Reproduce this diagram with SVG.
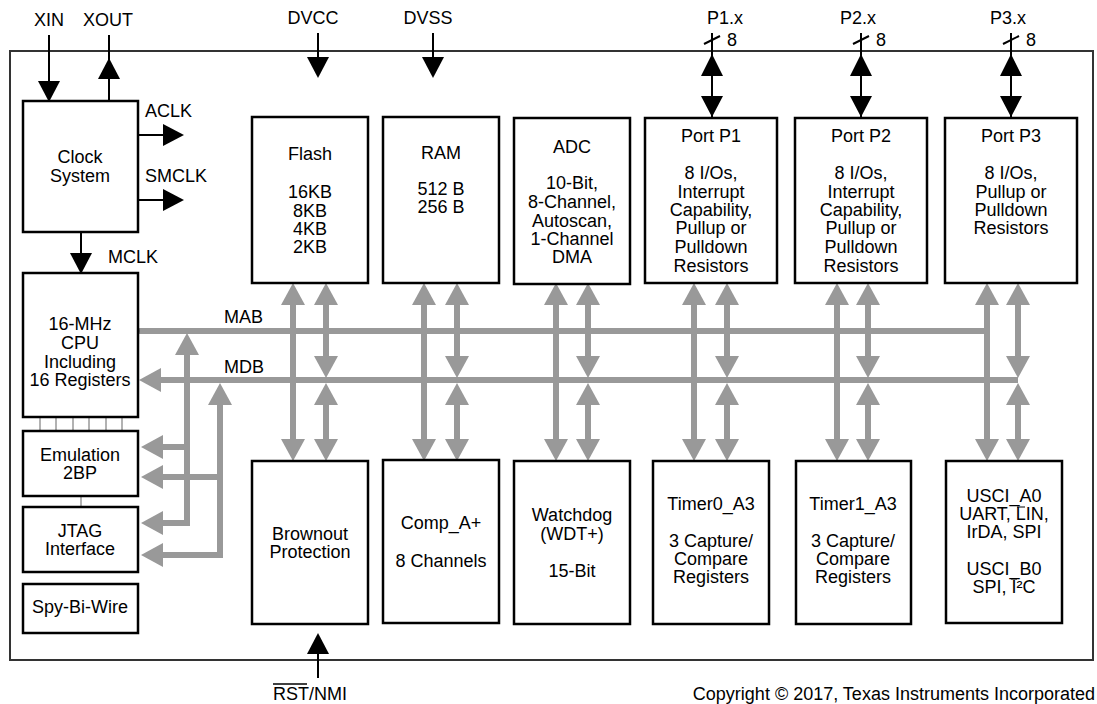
<svg xmlns="http://www.w3.org/2000/svg" width="1097" height="704" viewBox="0 0 1097 704">
<defs>
<style>
text{font-family:"Liberation Sans",Arial,sans-serif;font-size:18px;fill:#000}
.m{text-anchor:middle}
.box{fill:#fff;stroke:#000;stroke-width:2.5}
.bus{fill:none;stroke:#999;stroke-width:6}
.gb{marker-start:url(#ga);marker-end:url(#ga)}
.ge{marker-end:url(#ga)}
.sig{fill:none;stroke:#000;stroke-width:2}
.thin{stroke:#999;stroke-width:1.5}
</style>
<marker id="ga" markerUnits="userSpaceOnUse" markerWidth="22" markerHeight="24" viewBox="0 0 22 24" refX="0" refY="12" orient="auto-start-reverse"><path d="M0,0L22,12L0,24Z" fill="#999"/></marker>
<marker id="ba" markerUnits="userSpaceOnUse" markerWidth="21" markerHeight="22" viewBox="0 0 21 22" refX="0" refY="11" orient="auto-start-reverse"><path d="M0,0L21,11L0,22Z" fill="#000"/></marker>
</defs>
<rect width="1097" height="704" fill="#fff"/>
<rect x="10" y="51" width="1083" height="609" fill="none" stroke="#333" stroke-width="2"/>

<g id="connectors">
<path class="sig" d="M49,35L49,81" marker-end="url(#ba)"/>
<path class="sig" d="M109,35L109,101"/>
<path d="M98,79L120,79L109,58Z" fill="#000"/>
<path class="sig" d="M138,135L163,135" marker-end="url(#ba)"/>
<path class="sig" d="M138,200L163,200" marker-end="url(#ba)"/>
<path class="sig" d="M81,232L81,253" marker-end="url(#ba)"/>
<path class="sig" d="M318,33L318,57" marker-end="url(#ba)"/>
<path class="sig" d="M433,33L433,57" marker-end="url(#ba)"/>
<path class="sig" d="M318,678L318,654" marker-end="url(#ba)"/>
<g id="p1io">
<path class="sig" d="M712,33L712,118"/>
<path d="M701,76L723,76L712,54Z M701,96L723,96L712,117Z" fill="#000"/>
<path class="sig" stroke-width="1.5" d="M704,44L720,36"/>
</g>
<g id="p2io">
<path class="sig" d="M861,33L861,118"/>
<path d="M850,76L872,76L861,54Z M850,96L872,96L861,117Z" fill="#000"/>
<path class="sig" stroke-width="1.5" d="M853,44L869,36"/>
</g>
<g id="p3io">
<path class="sig" d="M1011,33L1011,118"/>
<path d="M1000,76L1022,76L1011,54Z M1000,96L1022,96L1011,117Z" fill="#000"/>
<path class="sig" stroke-width="1.5" d="M1003,44L1019,36"/>
</g>
<path class="thin" d="M40,417V431M56,417V431M73,417V431M89,417V431M106,417V431M122,417V431M81,496V507"/>
<path class="bus" d="M137,331L987,331"/>
<circle cx="137" cy="331" r="3" fill="#777"/>
<path class="bus" d="M161,380L1018,380" marker-start="url(#ga)"/>
<path class="bus gb" d="M187,355L187,523L163,523"/>
<path class="bus ge" d="M187,447L163,447"/>
<path class="bus gb" d="M220,405L220,555L163,555"/>
<path class="bus ge" d="M220,477L163,477"/>
<path class="bus gb" d="M293,305V439"/><path class="bus gb" d="M326,305V356"/><path class="bus gb" d="M326,405V439"/>
<path class="bus gb" d="M424,305V439"/><path class="bus gb" d="M457,305V356"/><path class="bus gb" d="M457,405V439"/>
<path class="bus gb" d="M556,305V439"/><path class="bus gb" d="M588,305V356"/><path class="bus gb" d="M588,405V439"/>
<path class="bus gb" d="M694,305V439"/><path class="bus gb" d="M727,305V356"/><path class="bus gb" d="M727,405V439"/>
<path class="bus gb" d="M837,305V439"/><path class="bus gb" d="M868,305V356"/><path class="bus gb" d="M868,405V439"/>
<path class="bus gb" d="M987,305V439"/><path class="bus gb" d="M1018,305V356"/><path class="bus gb" d="M1018,405V439"/>
</g>

<g id="labels">
<text class="m" x="49" y="26">XIN</text>
<text class="m" x="108" y="26">XOUT</text>
<text x="145" y="117">ACLK</text>
<text x="145" y="182">SMCLK</text>
<text x="108" y="263">MCLK</text>
<text class="m" x="313" y="24">DVCC</text>
<text class="m" x="428" y="24">DVSS</text>
<text class="m" x="725" y="24">P1.x</text>
<text x="727" y="46">8</text>
<text class="m" x="858" y="24">P2.x</text>
<text x="876" y="46">8</text>
<text class="m" x="1008" y="24">P3.x</text>
<text x="1026" y="46">8</text>
<text x="224" y="323">MAB</text>
<text x="224" y="373">MDB</text>
<text x="273" y="700">RST/NMI</text>
<line x1="273" y1="684" x2="307" y2="684" stroke="#000" stroke-width="1.3"/>
<text x="1095" y="700" style="text-anchor:end">Copyright © 2017, Texas Instruments Incorporated</text>
</g>

<g id="clock"><rect class="box" x="23" y="101" width="115" height="131"/>
<text class="m" x="80" y="163">Clock</text><text class="m" x="80" y="182">System</text></g>
<g id="cpu"><rect class="box" x="23" y="273" width="115" height="144"/>
<text class="m" x="80" y="330">16-MHz</text><text class="m" x="80" y="349">CPU</text><text class="m" x="80" y="368">Including</text><text class="m" x="80" y="386">16 Registers</text></g>
<g id="emulation"><rect class="box" x="23" y="431" width="115" height="65"/>
<text class="m" x="80" y="461">Emulation</text><text class="m" x="80" y="479">2BP</text></g>
<g id="jtag"><rect class="box" x="23" y="507" width="115" height="65"/>
<text class="m" x="80" y="537">JTAG</text><text class="m" x="80" y="555">Interface</text></g>
<g id="spybiwire"><rect class="box" x="23" y="584" width="115" height="49"/>
<text class="m" x="80" y="613">Spy-Bi-Wire</text></g>

<g id="flash"><rect class="box" x="252" y="117" width="116" height="166"/>
<text class="m" x="310" y="160">Flash</text><text class="m" x="310" y="198">16KB</text><text class="m" x="310" y="217">8KB</text><text class="m" x="310" y="235">4KB</text><text class="m" x="310" y="253">2KB</text></g>
<g id="ram"><rect class="box" x="383" y="117" width="116" height="166"/>
<text class="m" x="441" y="159">RAM</text><text class="m" x="441" y="195">512 B</text><text class="m" x="441" y="213">256 B</text></g>
<g id="adc"><rect class="box" x="514" y="118" width="116" height="166"/>
<text class="m" x="572" y="153">ADC</text><text class="m" x="572" y="189">10-Bit,</text><text class="m" x="572" y="208">8-Channel,</text><text class="m" x="572" y="227">Autoscan,</text><text class="m" x="572" y="245">1-Channel</text><text class="m" x="572" y="263">DMA</text></g>
<g id="portp1"><rect class="box" x="645" y="118" width="132" height="165"/>
<text class="m" x="711" y="142">Port P1</text><text class="m" x="711" y="179">8 I/Os,</text><text class="m" x="711" y="198">Interrupt</text><text class="m" x="711" y="216">Capability,</text><text class="m" x="711" y="234">Pullup or</text><text class="m" x="711" y="253">Pulldown</text><text class="m" x="711" y="272">Resistors</text></g>
<g id="portp2"><rect class="box" x="795" y="118" width="132" height="165"/>
<text class="m" x="861" y="142">Port P2</text><text class="m" x="861" y="179">8 I/Os,</text><text class="m" x="861" y="198">Interrupt</text><text class="m" x="861" y="216">Capability,</text><text class="m" x="861" y="234">Pullup or</text><text class="m" x="861" y="253">Pulldown</text><text class="m" x="861" y="272">Resistors</text></g>
<g id="portp3"><rect class="box" x="945" y="118" width="132" height="165"/>
<text class="m" x="1011" y="142">Port P3</text><text class="m" x="1011" y="179">8 I/Os,</text><text class="m" x="1011" y="198">Pullup or</text><text class="m" x="1011" y="216">Pulldown</text><text class="m" x="1011" y="234">Resistors</text></g>

<g id="brownout"><rect class="box" x="252" y="461" width="116" height="163"/>
<text class="m" x="310" y="540">Brownout</text><text class="m" x="310" y="558">Protection</text></g>
<g id="comp"><rect class="box" x="383" y="460" width="116" height="163"/>
<text class="m" x="441" y="529">Comp_A+</text><text class="m" x="441" y="567">8 Channels</text></g>
<g id="watchdog"><rect class="box" x="514" y="461" width="116" height="163"/>
<text class="m" x="572" y="521">Watchdog</text><text class="m" x="572" y="540">(WDT+)</text><text class="m" x="572" y="577">15-Bit</text></g>
<g id="timer0"><rect class="box" x="653" y="461" width="116" height="163"/>
<text class="m" x="711" y="510">Timer0_A3</text><text class="m" x="711" y="547">3 Capture/</text><text class="m" x="711" y="565">Compare</text><text class="m" x="711" y="583">Registers</text></g>
<g id="timer1"><rect class="box" x="796" y="461" width="115" height="163"/>
<text class="m" x="853" y="510">Timer1_A3</text><text class="m" x="853" y="547">3 Capture/</text><text class="m" x="853" y="565">Compare</text><text class="m" x="853" y="583">Registers</text></g>
<g id="usci"><rect class="box" x="946" y="461" width="116" height="162"/>
<text class="m" x="1004" y="502">USCI_A0</text><text class="m" x="1004" y="520">UART, LIN,</text><text class="m" x="1004" y="538">IrDA, SPI</text><text class="m" x="1004" y="575">USCI_B0</text><text class="m" x="1004" y="593">SPI, I²C</text>
<line x1="1017" y1="507" x2="1025" y2="507" stroke="#000" stroke-width="1"/>
<line x1="1011" y1="579" x2="1017" y2="579" stroke="#000" stroke-width="1"/></g>
</svg>
